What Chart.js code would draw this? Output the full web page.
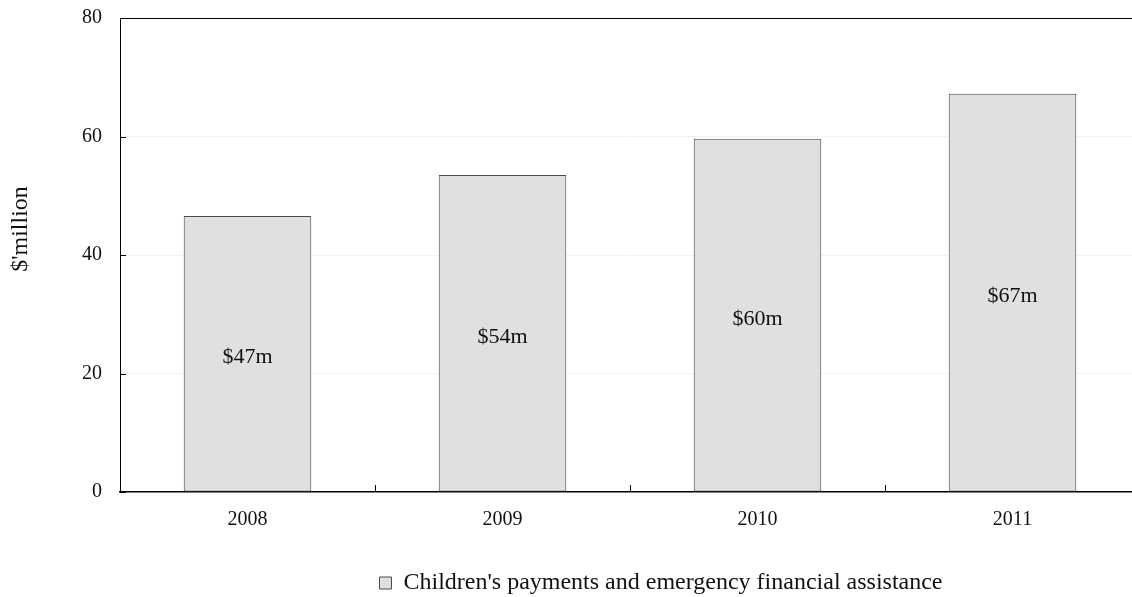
<!DOCTYPE html>
<html>
<head>
<meta charset="utf-8">
<script src="https://cdn.jsdelivr.net/npm/chart.js@4.4.1/dist/chart.umd.min.js"></script>
<style>
  html, body { margin: 0; padding: 0; overflow: hidden; background: #fff; }
  #wrap { width: 1322px; height: 605px; }
</style>
</head>
<body>
<div id="wrap"><canvas id="myChart" width="1322" height="605"></canvas></div>
<script>
const years = ['2008', '2009', '2010', '2011'];
const payments = [46.6, 53.5, 59.6, 67.2];
const yTicks = [0, 20, 40, 60, 80];
const seriesName = "Children's payments and emergency financial assistance";
const yTitle = "$'million";

const serif = '"Liberation Serif", "Times New Roman", serif';

function moneyLabel(v) {
    return '$' + Math.round(v) + 'm';
}

// top frame line, inward tick marks, axis title and the value labels inside the bars
const frame = {
    id: 'frame',
    afterDatasetsDraw(chart) {
        const ctx = chart.ctx;
        const area = chart.chartArea;
        const x = chart.scales.x;
        const y = chart.scales.y;
        ctx.save();
        ctx.strokeStyle = '#000';
        ctx.lineWidth = 1;
        ctx.beginPath();
        ctx.moveTo(area.left, area.top + 0.5);
        ctx.lineTo(area.right, area.top + 0.5);
        yTicks.forEach(v => {
            const py = Math.round(y.getPixelForValue(v)) + 0.5;
            ctx.moveTo(area.left, py);
            ctx.lineTo(area.left + 6, py);
        });
        for (let i = 1; i < years.length; i++) {
            const px = Math.round((x.getPixelForValue(i - 1) + x.getPixelForValue(i)) / 2) + 0.5;
            ctx.moveTo(px, area.bottom);
            ctx.lineTo(px, area.bottom - 7);
        }
        ctx.stroke();

        ctx.fillStyle = '#111';
        ctx.font = '22px ' + serif;
        ctx.textAlign = 'center';
        ctx.textBaseline = 'middle';
        chart.getDatasetMeta(0).data.forEach((bar, i) => {
            ctx.fillText(moneyLabel(payments[i]), bar.x, (bar.y + bar.base) / 2 + 4);
        });

        // y axis title, sitting a little above the middle of the axis
        ctx.font = '24px ' + serif;
        ctx.translate(21, (area.top + area.bottom) / 2 - 26);
        ctx.rotate(-Math.PI / 2);
        ctx.fillText(yTitle, 0, 0);
        ctx.restore();
    }
};

const data = {
    labels: years,
    datasets: [{
        label: seriesName,
        data: payments,
        backgroundColor: '#e0e0e0',
        borderColor: '#4a4a4a',
        borderWidth: 1,
        borderSkipped: false,
        categoryPercentage: 1,
        barPercentage: 0.5
    }]
};

const config = {
    type: 'bar',
    data: data,
    plugins: [frame],
    options: {
        responsive: false,
        animation: false,
        layout: { padding: { top: 18, left: 0, right: 0, bottom: 0 } },
        plugins: {
            tooltip: { enabled: false },
            legend: {
                position: 'bottom',
                labels: {
                    color: '#111',
                    font: { family: serif, size: 24 },
                    boxWidth: 12,
                    boxHeight: 12,
                    padding: 10
                }
            }
        },
        scales: {
            x: {
                grid: { display: false, drawTicks: false },
                border: { color: '#000', width: 1.5 },
                ticks: { color: '#111', font: { family: serif, size: 20 }, padding: 16 },
                afterFit(s) { s.height = 69; }
            },
            y: {
                min: 0,
                max: 80,
                ticks: { stepSize: 20, color: '#111', font: { family: serif, size: 20 }, padding: 18 },
                grid: {
                    drawTicks: false,
                    color: c => (c.tick && c.tick.value > 0 && c.tick.value < 80) ? '#f2f2f2' : 'rgba(0,0,0,0)'
                },
                border: { color: '#000', width: 1 },
                afterFit(s) {
                    s.width = 120;
                    s.paddingTop = 0;
                }
            },
            // empty strip on the right so the plot runs to x = 1140
            side: {
                type: 'linear',
                position: 'right',
                grid: { display: false, drawTicks: false },
                border: { display: false },
                ticks: { display: false },
                afterFit(s) { s.width = 182; }
            }
        }
    }
};

const myChart = new Chart(document.getElementById('myChart'), config);
</script>
</body>
</html>
